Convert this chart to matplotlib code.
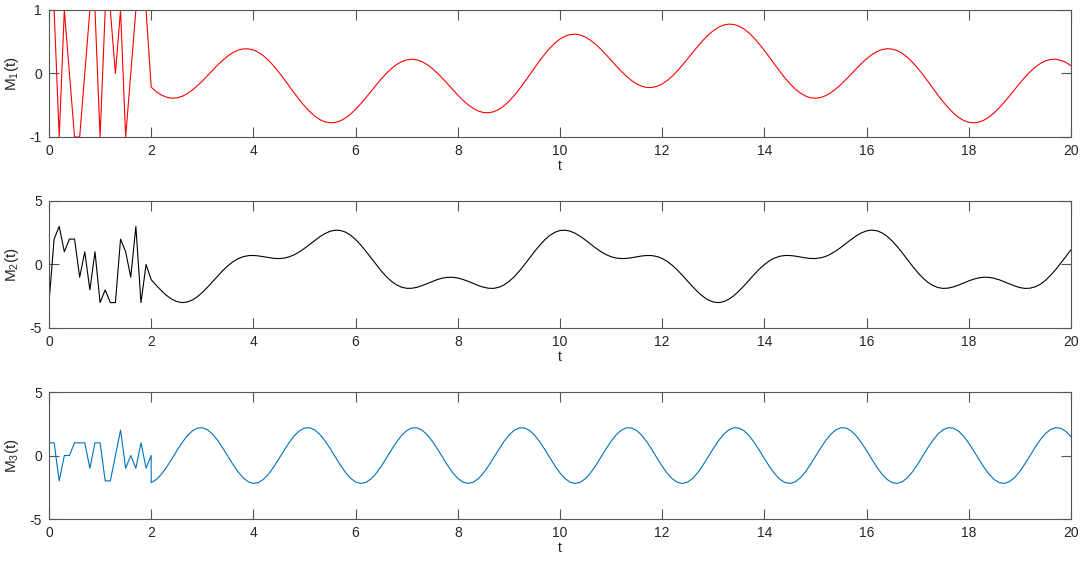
import matplotlib.pyplot as plt
import numpy as np

plt.rcParams['font.family'] = ['Liberation Sans', 'DejaVu Sans']
plt.rcParams['mathtext.default'] = 'regular'
plt.rcParams['axes.unicode_minus'] = False

# random start-up part, sampled every 0.1 from t=0
m1_noise = [1, 1, -1, 1, 0, -1, -1, 0, 1, 1, -1, 1, 1, 0, 1, -1, 0, 1, 1, 1]
m2_noise = [-3, 2, 3, 1, 2, 2, -1, 1, -2, 1, -3, -2, -3, -3, 2, 1, -1, 3, -3, 0]
m3_noise = [1, 1, -2, 0, 0, 1, 1, 1, -1, 1, 1, -2, -2, 0, 2, -1, 0, -1, 1, -1, 0]

# smooth part, t = 2 .. 20 every 0.1
m1_smooth = [-0.216, -0.287, -0.340, -0.374, -0.389, -0.385, -0.362, -0.321, -0.265, -0.196,
             -0.119, -0.035, 0.050, 0.132, 0.208, 0.275, 0.329, 0.367, 0.387, 0.388,
             0.370, 0.332, 0.276, 0.203, 0.116, 0.018, -0.088, -0.198, -0.308, -0.414,
             -0.512, -0.599, -0.671, -0.726, -0.762, -0.777, -0.772, -0.747, -0.702, -0.641,
             -0.565, -0.478, -0.383, -0.283, -0.184, -0.088, 0.000, 0.077, 0.140, 0.186,
             0.214, 0.224, 0.214, 0.185, 0.140, 0.079, 0.006, -0.076, -0.164, -0.253,
             -0.340, -0.421, -0.492, -0.549, -0.591, -0.615, -0.619, -0.603, -0.567, -0.512,
             -0.439, -0.351, -0.251, -0.142, -0.029, 0.086, 0.198, 0.303, 0.397, 0.478,
             0.542, 0.587, 0.613, 0.619, 0.605, 0.572, 0.522, 0.457, 0.381, 0.297,
             0.208, 0.119, 0.034, -0.044, -0.111, -0.165, -0.201, -0.221, -0.221, -0.202,
             -0.165, -0.110, -0.040, 0.043, 0.136, 0.234, 0.334, 0.431, 0.523, 0.605,
             0.674, 0.727, 0.762, 0.777, 0.772, 0.746, 0.701, 0.637, 0.557, 0.464,
             0.362, 0.254, 0.143, 0.035, -0.068, -0.161, -0.242, -0.306, -0.354, -0.382,
             -0.390, -0.379, -0.349, -0.303, -0.242, -0.171, -0.091, -0.007, 0.078, 0.159,
             0.232, 0.295, 0.343, 0.376, 0.390, 0.384, 0.359, 0.315, 0.253, 0.175,
             0.084, -0.017, -0.125, -0.236, -0.345, -0.448, -0.542, -0.625, -0.692, -0.740,
             -0.769, -0.778, -0.766, -0.734, -0.684, -0.618, -0.537, -0.447, -0.350, -0.250,
             -0.151, -0.058, 0.027, 0.100, 0.157, 0.199, 0.220, 0.225, 0.206, 0.176,
             0.121]
m2_smooth = [-1.195, -1.643, -2.067, -2.434, -2.725, -2.918, -2.998, -2.960, -2.808, -2.550,
             -2.206, -1.800, -1.357, -0.909, -0.482, -0.101, 0.215, 0.457, 0.615, 0.697,
             0.712, 0.675, 0.609, 0.538, 0.483, 0.466, 0.502, 0.601, 0.767, 0.994,
             1.270, 1.577, 1.890, 2.185, 2.433, 2.612, 2.700, 2.682, 2.552, 2.310,
             1.968, 1.540, 1.049, 0.530, 0.003, -0.498, -0.946, -1.319, -1.603, -1.787,
             -1.875, -1.873, -1.796, -1.665, -1.503, -1.335, -1.185, -1.071, -1.009, -1.006,
             -1.064, -1.174, -1.321, -1.490, -1.653, -1.787, -1.870, -1.881, -1.799, -1.621,
             -1.345, -0.979, -0.536, -0.039, 0.487, 1.011, 1.502, 1.936, 2.286, 2.537,
             2.676, 2.702, 2.623, 2.451, 2.207, 1.915, 1.602, 1.294, 1.014, 0.783,
             0.612, 0.507, 0.466, 0.479, 0.533, 0.604, 0.671, 0.710, 0.700, 0.625,
             0.472, 0.239, -0.073, -0.448, -0.872, -1.321, -1.765, -2.175, -2.525, -2.790,
             -2.952, -3.000, -2.929, -2.745, -2.463, -2.097, -1.680, -1.233, -0.789, -0.371,
             -0.007, 0.293, 0.508, 0.646, 0.708, 0.706, 0.662, 0.590, 0.523, 0.473,
             0.470, 0.523, 0.636, 0.825, 1.068, 1.354, 1.664, 1.976, 2.260, 2.492,
             2.647, 2.706, 2.657, 2.495, 2.226, 1.856, 1.409, 0.908, 0.381, -0.141,
             -0.629, -1.058, -1.408, -1.664, -1.821, -1.883, -1.858, -1.765, -1.623, -1.455,
             -1.290, -1.148, -1.048, -1.002, -1.016, -1.090, -1.209, -1.368, -1.533, -1.695,
             -1.819, -1.884, -1.865, -1.757, -1.556, -1.252, -0.861, -0.401, 0.107, 0.635,
             1.153]
m3_smooth = [-2.138, -1.890, -1.472, -0.923, -0.292, 0.365, 0.990, 1.526, 1.926, 2.154, 2.190,
             2.030, 1.688, 1.196, 0.597, -0.055, -0.703, -1.287, -1.758, -2.070, -2.198,
             -2.129, -1.870, -1.445, -0.890, -0.255, 0.402, 1.023, 1.552, 1.944, 2.162, 2.186,
             2.015, 1.665, 1.165, 0.561, -0.092, -0.738, -1.317, -1.779, -2.082, -2.199,
             -2.120, -1.851, -1.417, -0.856, -0.219, 0.438, 1.056, 1.579, 1.961, 2.168, 2.182,
             2.000, 1.640, 1.133, 0.526, -0.129, -0.773, -1.346, -1.801, -2.094, -2.200,
             -2.109, -1.831, -1.388, -0.822, -0.182, 0.474, 1.088, 1.604, 1.977, 2.174, 2.177,
             1.985, 1.615, 1.102, 0.490, -0.166, -0.807, -1.376, -1.822, -2.105, -2.200,
             -2.098, -1.810, -1.359, -0.787, -0.145, 0.510, 1.120, 1.629, 1.993, 2.179, 2.171,
             1.968, 1.590, 1.069, 0.453, -0.203, -0.841, -1.404, -1.842, -2.116, -2.200,
             -2.087, -1.788, -1.330, -0.753, -0.108, 0.546, 1.151, 1.654, 2.009, 2.184, 2.164,
             1.951, 1.564, 1.037, 0.417, -0.240, -0.875, -1.433, -1.862, -2.125, -2.198,
             -2.075, -1.767, -1.300, -0.718, -0.071, 0.582, 1.183, 1.678, 2.024, 2.188, 2.158,
             1.934, 1.538, 1.004, 0.381, -0.277, -0.909, -1.461, -1.882, -2.134, -2.197,
             -2.063, -1.744, -1.270, -0.683, -0.034, 0.617, 1.214, 1.702, 2.038, 2.192, 2.150,
             1.916, 1.511, 0.971, 0.344, -0.313, -0.943, -1.487, -1.901, -2.142, -2.195,
             -2.050, -1.722, -1.240, -0.648, 0.003, 0.653, 1.244, 1.725, 2.052, 2.195, 2.142,
             1.897, 1.484]

labels = ['M$_1$(t)', 'M$_2$(t)', 'M$_3$(t)']
colors = ['#ff0000', '#000000', '#0072bd']
ylims = [(-1, 1), (-5, 5), (-5, 5)]


def series(noise, smooth):
    tn = np.linspace(0, 0.1 * (len(noise) - 1), len(noise))
    ts = np.linspace(2, 20, len(smooth))
    return np.concatenate([tn, ts]), np.concatenate([noise, smooth])


data = [series(m1_noise, m1_smooth), series(m2_noise, m2_smooth), series(m3_noise, m3_smooth)]

fig = plt.figure(figsize=(10.84, 5.66), dpi=100)
bottoms = [0.758, 0.4205, 0.083]
axc = '#555555'
for i in range(3):
    ax = fig.add_axes([0.0452, bottoms[i], 0.9428, 0.2244])
    t, y = data[i]
    ax.plot(t, y, color=colors[i], lw=0.8)
    ax.set_xlim(0, 20)
    ax.set_ylim(*ylims[i])
    ax.set_xticks(range(0, 21, 2))
    ax.set_yticks([ylims[i][0], 0, ylims[i][1]])
    ax.tick_params(direction='in', length=7, width=0.8, top=True, right=True,
                   color=axc, labelcolor='#262626', labelsize=10, pad=5)
    for s in ax.spines.values():
        s.set_color(axc)
        s.set_linewidth(0.8)
    ax.set_xlabel('t', fontsize=10, color='#262626')
    ax.set_ylabel(labels[i], fontsize=11, color='#262626')
    ax.xaxis.set_label_coords(0.5, -0.17)
    ax.yaxis.set_label_coords(-0.027, 0.5)

fig.savefig('out.png', dpi=100)
